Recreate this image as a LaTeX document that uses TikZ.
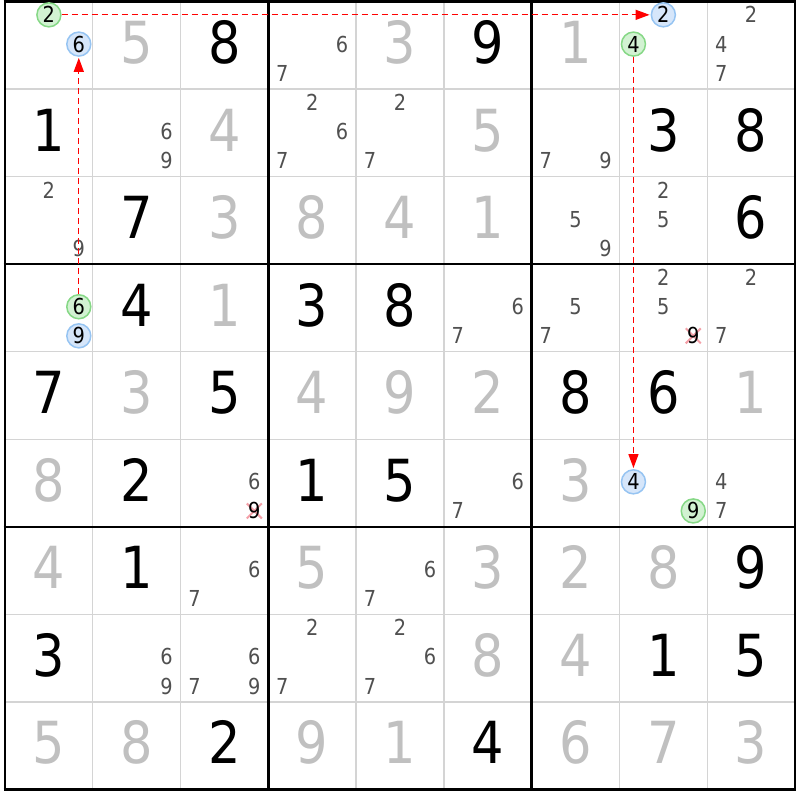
\documentclass[tikz,border=0pt]{standalone}
\usepackage{fontspec}
\setmainfont{DejaVu Sans}[FakeStretch=0.88]
\usetikzlibrary{arrows.meta}
\definecolor{solvedgray}{HTML}{C0C0C0}
\definecolor{candgray}{HTML}{505050}
\definecolor{gridgray}{HTML}{D4D4D4}
\definecolor{gfill}{HTML}{D2F2D2}
\definecolor{gline}{HTML}{86D886}
\definecolor{bfill}{HTML}{D6E6FA}
\definecolor{bline}{HTML}{96C4F2}
\definecolor{xpink}{HTML}{F4A0A8}
\tikzset{
  bigdig/.style={anchor=base,inner sep=0pt,font=\fontsize{58}{58}\selectfont},
  given/.style={bigdig,text=black},
  solved/.style={bigdig,text=solvedgray},
  cand/.style={anchor=base,inner sep=0pt,font=\fontsize{22}{22}\selectfont,text=candgray},
  gcirc/.style={cand,circle,text=black,draw=gline,fill=gfill,line width=1.5pt,minimum size=24pt},
  bcirc/.style={cand,circle,text=black,draw=bline,fill=bfill,line width=1.5pt,minimum size=24pt},
  elim/.style={cand,text=black},
  chain/.style={draw=red,line width=1.3pt,dash pattern=on 6pt off 4pt,-{Triangle[length=14pt,width=10pt]},shorten >=1pt},
  cross/.style={draw=xpink,line width=2pt},
}
\newcommand\putdig[4][given]{%
  \pgfmathsetmacro\digX{5+(#3-0.5)*87.78}%
  \pgfmathsetmacro\digY{1.5+(#2-1)*87.55+62}%
  \node[#1] (d#2#3) at (\digX,\digY) {#4};}
\newcommand\putcand[4][cand]{%
  \pgfmathsetmacro\candX{5+(#3-1)*87.78+14+mod(#4-1,3)*29.9}%
  \pgfmathsetmacro\candY{1.5+(#2-1)*87.55+21.5+floor((#4-1)/3)*29.1}%
  \node[#1] (c#2#3#4) at (\candX,\candY) {#4};}
\newcommand\putcross[3]{%
  \pgfmathsetmacro\candX{5+(#2-1)*87.78+14+mod(#3-1,3)*29.9}%
  \pgfmathsetmacro\candY{1.5+(#1-1)*87.55+21.5+floor((#3-1)/3)*29.1-8}%
  \draw[cross] (\candX-7.5,\candY-7.5) -- (\candX+7.5,\candY+7.5)
               (\candX-7.5,\candY+7.5) -- (\candX+7.5,\candY-7.5);}
\begin{document}
\begin{tikzpicture}[x=1pt,y=-1pt]
\useasboundingbox (0,0) rectangle (800,800);
\fill[white] (0,0) rectangle (800,800);
% thin grid lines
\foreach \i in {1,2,4,5,7,8}{
  \draw[gridgray,line width=1.4pt] ({5+\i*87.78},1.5) -- ({5+\i*87.78},789.5);
  \draw[gridgray,line width=1.4pt] (5,{1.5+\i*87.55}) -- (795,{1.5+\i*87.55});
}
% thick lines
\foreach \i in {0,3,6,9}{
  \draw[black,line width=2.6pt] ({5+\i*87.78},0.2) -- ({5+\i*87.78},790.8);
  \draw[black,line width=2.6pt] (3.7,{1.5+\i*87.55}) -- (796.3,{1.5+\i*87.55});
}
% eliminated candidates: crosses
\putcross{4}{8}{9}
\putcross{6}{3}{9}
% row 1
\putcand[gcirc]{1}{1}{2}\putcand[bcirc]{1}{1}{6}
\putdig[solved]{1}{2}{5}\putdig{1}{3}{8}
\putcand{1}{4}{6}\putcand{1}{4}{7}
\putdig[solved]{1}{5}{3}\putdig{1}{6}{9}\putdig[solved]{1}{7}{1}
\putcand[bcirc]{1}{8}{2}\putcand[gcirc]{1}{8}{4}
\putcand{1}{9}{2}\putcand{1}{9}{4}\putcand{1}{9}{7}
% row 2
\putdig{2}{1}{1}
\putcand{2}{2}{6}\putcand{2}{2}{9}
\putdig[solved]{2}{3}{4}
\putcand{2}{4}{2}\putcand{2}{4}{6}\putcand{2}{4}{7}
\putcand{2}{5}{2}\putcand{2}{5}{7}
\putdig[solved]{2}{6}{5}
\putcand{2}{7}{7}\putcand{2}{7}{9}
\putdig{2}{8}{3}\putdig{2}{9}{8}
% row 3
\putcand{3}{1}{2}\putcand{3}{1}{9}
\putdig{3}{2}{7}\putdig[solved]{3}{3}{3}\putdig[solved]{3}{4}{8}
\putdig[solved]{3}{5}{4}\putdig[solved]{3}{6}{1}
\putcand{3}{7}{5}\putcand{3}{7}{9}
\putcand{3}{8}{2}\putcand{3}{8}{5}
\putdig{3}{9}{6}
% row 4
\putcand[gcirc]{4}{1}{6}\putcand[bcirc]{4}{1}{9}
\putdig{4}{2}{4}\putdig[solved]{4}{3}{1}\putdig{4}{4}{3}\putdig{4}{5}{8}
\putcand{4}{6}{6}\putcand{4}{6}{7}
\putcand{4}{7}{5}\putcand{4}{7}{7}
\putcand{4}{8}{2}\putcand{4}{8}{5}\putcand[elim]{4}{8}{9}
\putcand{4}{9}{2}\putcand{4}{9}{7}
% row 5
\putdig{5}{1}{7}\putdig[solved]{5}{2}{3}\putdig{5}{3}{5}
\putdig[solved]{5}{4}{4}\putdig[solved]{5}{5}{9}\putdig[solved]{5}{6}{2}
\putdig{5}{7}{8}\putdig{5}{8}{6}\putdig[solved]{5}{9}{1}
% row 6
\putdig[solved]{6}{1}{8}\putdig{6}{2}{2}
\putcand{6}{3}{6}\putcand[elim]{6}{3}{9}
\putdig{6}{4}{1}\putdig{6}{5}{5}
\putcand{6}{6}{6}\putcand{6}{6}{7}
\putdig[solved]{6}{7}{3}
\putcand[bcirc]{6}{8}{4}\putcand[gcirc]{6}{8}{9}
\putcand{6}{9}{4}\putcand{6}{9}{7}
% row 7
\putdig[solved]{7}{1}{4}\putdig{7}{2}{1}
\putcand{7}{3}{6}\putcand{7}{3}{7}
\putdig[solved]{7}{4}{5}
\putcand{7}{5}{6}\putcand{7}{5}{7}
\putdig[solved]{7}{6}{3}\putdig[solved]{7}{7}{2}\putdig[solved]{7}{8}{8}\putdig{7}{9}{9}
% row 8
\putdig{8}{1}{3}
\putcand{8}{2}{6}\putcand{8}{2}{9}
\putcand{8}{3}{6}\putcand{8}{3}{7}\putcand{8}{3}{9}
\putcand{8}{4}{2}\putcand{8}{4}{7}
\putcand{8}{5}{2}\putcand{8}{5}{6}\putcand{8}{5}{7}
\putdig[solved]{8}{6}{8}\putdig[solved]{8}{7}{4}\putdig{8}{8}{1}\putdig{8}{9}{5}
% row 9
\putdig[solved]{9}{1}{5}\putdig[solved]{9}{2}{8}\putdig{9}{3}{2}
\putdig[solved]{9}{4}{9}\putdig[solved]{9}{5}{1}\putdig{9}{6}{4}
\putdig[solved]{9}{7}{6}\putdig[solved]{9}{8}{7}\putdig[solved]{9}{9}{3}
% chains
\draw[chain] (c112) -- (c182);
\draw[chain] (c184) -- (c684);
\draw[chain] (c416) -- (c116);
\end{tikzpicture}
\end{document}
